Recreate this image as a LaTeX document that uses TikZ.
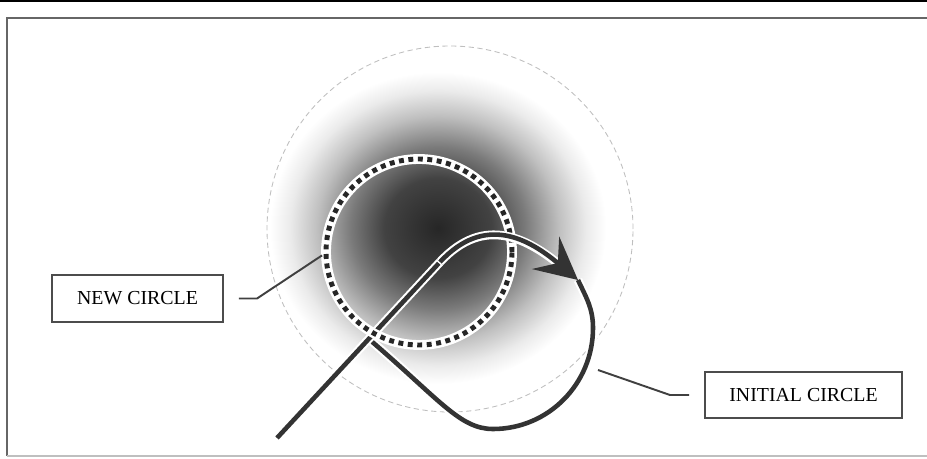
\documentclass[tikz,border=0pt]{standalone}
\usepackage{fontspec}
\setmainfont{Liberation Serif}
\usetikzlibrary{arrows.meta}

% soft dark spot
\pgfdeclareradialshading{blob}{\pgfpoint{0bp}{0bp}}{color(0bp)=(black!85); color(8bp)=(black!74); color(13bp)=(black!52); color(18bp)=(black!25); color(22bp)=(black!8); color(25bp)=(white); color(50bp)=(white)}

\begin{document}
\begin{tikzpicture}[
  x=0.2mm, y=0.2mm,
  lbl/.style={draw=black!70, line width=0.9pt, font=\fontsize{11.3}{13}\selectfont, minimum height=9.3mm, inner sep=0pt},
  leader/.style={draw=black!75, line width=1.1pt, shorten <=3mm},
  halo/.style={draw=white, line width=5pt},
  track/.style={draw=black!80, line width=2.6pt},
]
\useasboundingbox (0,0) rectangle (927,458);

% --- Frame ---
\fill[black] (0,455.5) rectangle (927,458);
\draw[black!60, line width=1.1pt] (7,2) -- (7,440) -- (927,440);
\draw[black!25, line width=0.8pt] (7,2) -- (927,2);

% --- Dark spot and outer circle ---
\def\ringR{93}   % radius of the new circle
\def\outR{183}   % radius of the outer circle
\shade[shading=blob] (438,230) ellipse (168 and 156);
\draw[black!25, densely dashed, line width=0.5pt] (450,229) circle (\outR);

% --- Points of the initial circle ---
\coordinate (ringc) at (419,206);
\coordinate (start) at (277,20);
\coordinate (bend) at (440,196);
\coordinate (tip) at (578,178);
\coordinate (side) at (593,130);
\coordinate (bottom) at (493,29);
\coordinate (cross) at (370,118);

% loop back to the crossing
\draw[halo] (tip) to[out=-65,in=90] (side) to[out=-90,in=0] (bottom)
  .. controls (460,29) and (440,58) .. (cross);
\draw[track] (tip) to[out=-65,in=90] (side) to[out=-90,in=0] (bottom)
  .. controls (460,29) and (440,58) .. (cross);

% straight part
\draw[halo] (start) -- (bend);
\draw[track, shorten >=1pt] (start) -- (bend);

% --- New circle (dotted ring) ---
\draw[white, line width=5.6pt] (ringc) circle (\ringR);
\draw[black!85, line width=2.8pt, dash pattern=on 2.8pt off 2.6pt] (ringc) circle (\ringR);

% upper arc with the arrow head
\draw[halo, shorten >=10pt] (bend) to[out=47,in=140,looseness=1.2] (tip);
\draw[track, -{Stealth[length=24pt, width=24pt, inset=9pt]}] (bend) to[out=47,in=140,looseness=1.2] (tip);

% --- Labels ---
\node[lbl, minimum width=34.2mm] (newlbl) at (137.5,159.5) {NEW CIRCLE};
\node[lbl, minimum width=39.4mm] (initlbl) at (803.5,63) {INITIAL CIRCLE};

\coordinate (newbend) at (257,159.5);
\coordinate (newend) at ([shift={(182:97)}]ringc);
\draw[leader] (newlbl.east) -- (newbend) -- (newend);

\coordinate (initbend) at (670,63);
\coordinate (initend) at (598,88);
\draw[leader] (initlbl.west) -- (initbend) -- (initend);

\end{tikzpicture}
\end{document}
